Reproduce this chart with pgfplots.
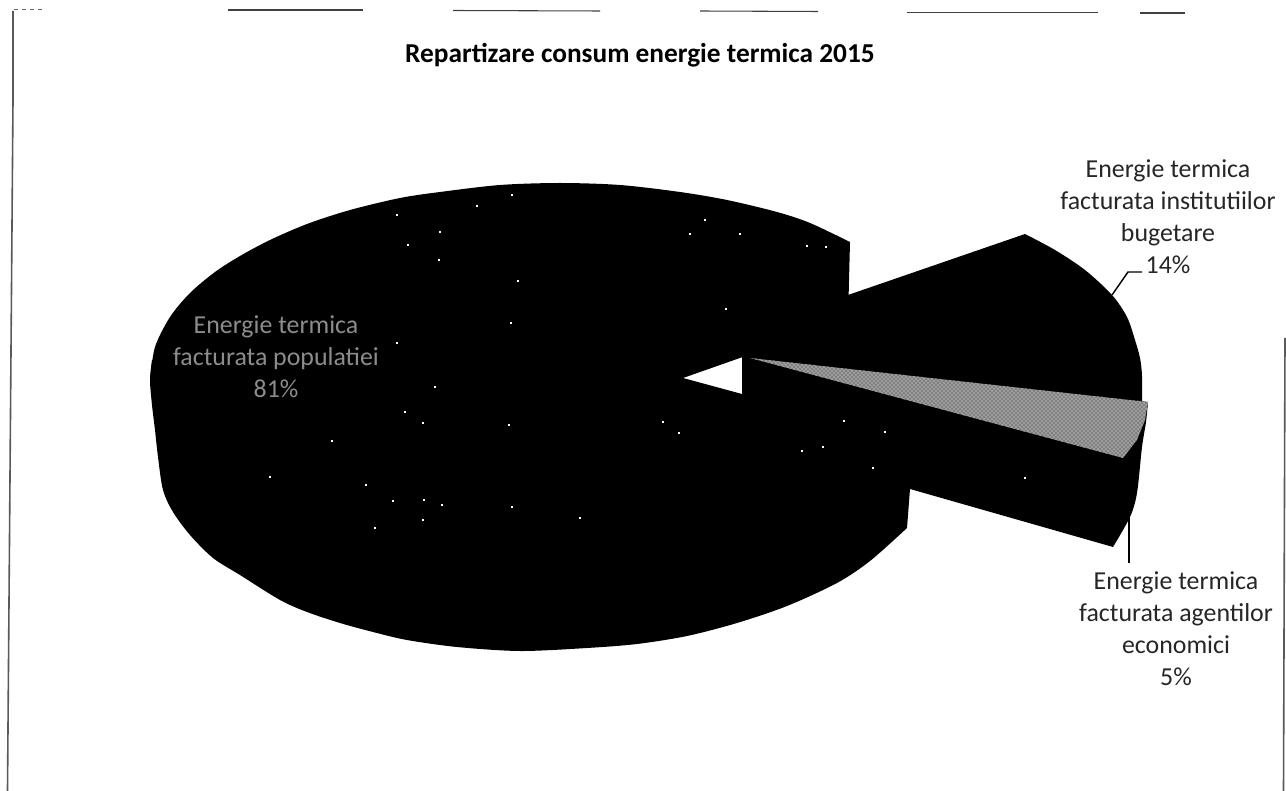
\documentclass[border=0pt]{standalone}
\usepackage{fontspec}
\setmainfont{Carlito}
\usepackage{pgfplots}
\pgfplotsset{compat=1.18}
\usetikzlibrary{patterns}

% Rim of the large slice, lower half: cut edge round to the far left
\pgfplotstableread{
x y
907 528
870 561
837 583
787 606
737 623
687 636
637 644
587 648
520 651
457 647
407 640
373 632
340 623
307 612
280 600
240 575
213 558
190 535
173 512
163 490
158 457
155 430
152 405
150 380
152 360
}\mainlower

% Rim of the large slice, upper half: far left round to the back cut
\pgfplotstableread{
x y
150 380
155 347
170 317
190 293
215 272
240 256
270 240
307 224
350 210
400 198
440 192
500 185
560 183
620 185
680 192
727 200
777 212
810 223
850 242
}\mainupper

% Inner part of the large slice, including the notch at the centre
\pgfplotstableread{
x y
155 380
500 250
850 242
848 320
683 378
742 394
910 489
907 528
500 600
}\maininner

% Rim of the second slice
\pgfplotstableread{
x y
1025 234
1055 250
1085 270
1112 295
1127 317
1135 340
1140 358
1142 376
1142 408
}\budgetrim

\pgfplotstableread{
x y
848 295
1025 234
1095 300
1142 408
750 364
742 357
}\budgetinner

% Side wall of the third slice
\pgfplotstableread{
x y
1148 402
1146 422
1142 447
1137 493
1130 517
1113 547
}\agentrim

\pgfplotstableread{
x y
742 357
750 358
1148 402
1134 480
1113 547
910 489
800 470
742 394
}\agentinner

% Top face of the third slice
\pgfplotstableread{
x y
750 358
1148 402
1145 420
1137 440
1123 458
}\agenttop

% Loose pale specks across the dark area
\pgfplotstableread{
x y
270 477
366 485
393 501
424 500
442 505
423 520
375 528
512 507
512 195
477 206
397 215
440 232
408 245
439 260
518 281
511 323
397 343
435 387
405 412
423 423
509 425
332 441
705 220
690 234
740 234
807 246
826 247
726 309
663 422
679 433
844 421
885 432
802 451
823 447
873 468
1025 478
580 518
}\specks

\begin{document}
\begin{tikzpicture}
\begin{axis}[
  scale only axis,
  width=964.5pt, height=593.25pt,
  xmin=0, xmax=1286, ymin=0, ymax=791,
  y dir=reverse,
  axis lines=none,
  clip=true,
]
% Sheet extent
\addplot[white, line width=0.1pt] coordinates {(0,0) (1286,0) (1286,791) (0,791) (0,0)};

% Page frame, broken along the top
\addplot[gray!70!black, line width=1.2pt] coordinates {(13,11) (13,100) (7.5,791)};
\addplot[gray!70!black, line width=1.2pt] coordinates {(1285,338) (1283.5,791)};
\addplot[black!75, line width=0.8pt] coordinates {(228,10) (363,10)};
\addplot[black!75, line width=0.8pt] coordinates {(453,10.5) (600,11)};
\addplot[black!75, line width=0.8pt] coordinates {(700,11) (818,11.5)};
\addplot[black!75, line width=0.8pt] coordinates {(907,12.5) (1098,12.5)};
\addplot[black!75, line width=0.8pt] coordinates {(1140,13) (1185,13)};
\addplot[black!60, line width=0.6pt, dashed] coordinates {(14,9) (45,9)};

% Slices
\addplot[fill=black, draw=none] table {\maininner} -- cycle;
\addplot[fill=black, draw=none, smooth, tension=0.5] table {\mainlower} -- cycle;
\addplot[fill=black, draw=none, smooth, tension=0.5] table {\mainupper} -- cycle;
\addplot[fill=black, draw=none] table {\budgetinner} -- cycle;
\addplot[fill=black, draw=none, smooth, tension=0.5] table {\budgetrim} -- cycle;
\addplot[fill=black, draw=none] table {\agentinner} -- cycle;
\addplot[fill=black, draw=none, smooth, tension=0.5] table {\agentrim} -- cycle;
\addplot[fill=black!50, draw=none] table {\agenttop} -- cycle;
\addplot[pattern=crosshatch dots, pattern color=white, draw=none] table {\agenttop} -- cycle;
\addplot[only marks, mark=*, mark size=0.6pt, mark options={fill=white, draw=white, line width=0pt}] table {\specks};

% Leader lines
\addplot[black, line width=1.1pt] coordinates {(1112,295) (1128,272) (1142,272)};
\addplot[black, line width=1.1pt] coordinates {(1129,517) (1129,563)};

% Title and data labels
\node[font=\bfseries\fontsize{20.5}{24}\selectfont, anchor=center] at (axis cs:640,55) {Repartizare consum energie termica 2015};

\node[font=\fontsize{19.4}{24}\selectfont, align=center, anchor=center, text=black!85] at (axis cs:1168,217)
  {Energie termica\\facturata institutiilor\\bugetare\\14\%};
\node[font=\fontsize{19.4}{24}\selectfont, align=center, anchor=center, text=black!85] at (axis cs:1176,629)
  {Energie termica\\facturata agentilor\\economici\\5\%};
\node[font=\fontsize{19.4}{24}\selectfont, align=center, anchor=center, text=black!45] at (axis cs:276,357)
  {Energie termica\\facturata populatiei\\81\%};
\end{axis}
\end{tikzpicture}
\end{document}
